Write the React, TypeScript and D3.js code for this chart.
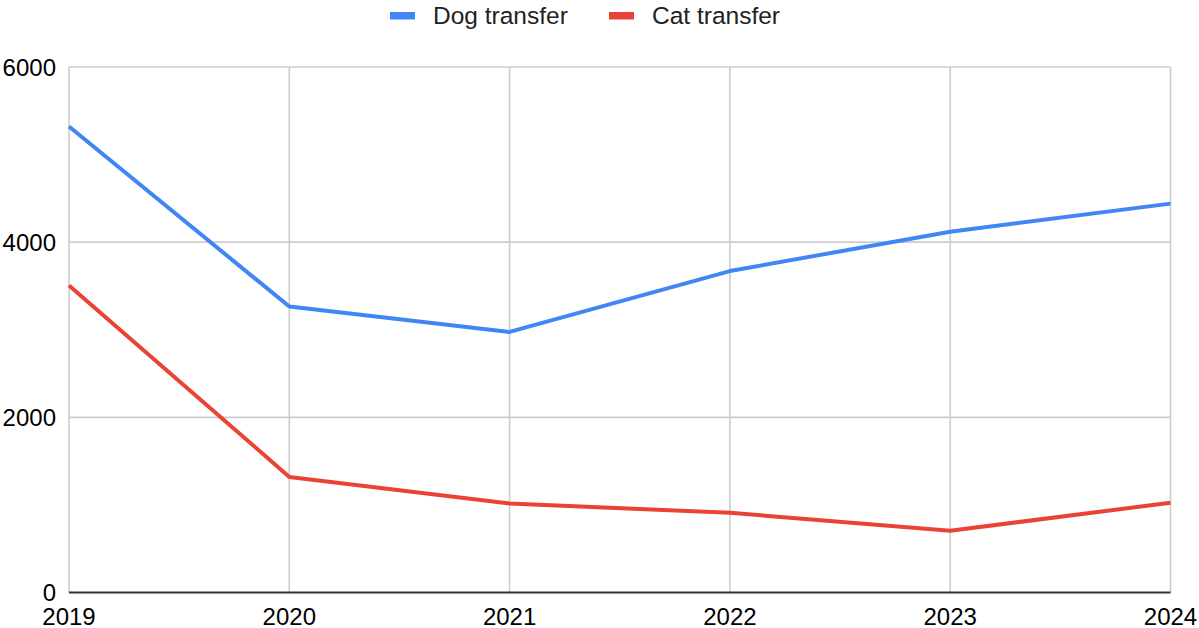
import React from "react";
import * as d3 from "d3";

const years = ["2019", "2020", "2021", "2022", "2023", "2024"];
const dogTransfer = [5320, 3265, 2975, 3670, 4120, 4440];
const catTransfer = [3505, 1320, 1015, 910, 705, 1025];
const yTicks = [0, 2000, 4000, 6000];
const seriesNames = ["Dog transfer", "Cat transfer"];
const seriesColors = ["#4285F4", "#EA4335"];

const W = 1199;
const H = 628;
const left = 69;
const right = 1170.5;
const top = 67;
const bottom = 592.5;
const font = "'Liberation Sans', Arial, sans-serif";

export default function App() {
  const x = d3.scalePoint<string>().domain(years).range([left, right]);
  const y = d3.scaleLinear().domain([0, 6000]).range([bottom, top]);
  const line = d3
    .line<number>()
    .x((_, i) => x(years[i]) as number)
    .y((d) => y(d));
  const series = [dogTransfer, catTransfer];

  const legendItems = [
    { swatchX: 390, textX: 433 },
    { swatchX: 609, textX: 652 },
  ];

  return (
    <svg
      width={W}
      height={H}
      style={{ position: "absolute", left: 0, top: 0, background: "#fff" }}
      fontFamily={font}
    >
      {yTicks
        .filter((t) => t !== 0)
        .map((t) => (
          <line key={"h" + t} x1={left} x2={right} y1={y(t)} y2={y(t)} stroke="#cccccc" strokeWidth={1.6} />
        ))}
      {years.map((yr) => (
        <line key={"v" + yr} x1={x(yr)} x2={x(yr)} y1={top} y2={bottom} stroke="#cccccc" strokeWidth={1.6} />
      ))}
      <line x1={left} x2={right} y1={y(0)} y2={y(0)} stroke="#333333" strokeWidth={1.8} />

      {yTicks.map((t) => (
        <text key={"yl" + t} x={56} y={y(t)} dy="0.36em" textAnchor="end" fontSize={24} fill="#000">
          {t}
        </text>
      ))}
      {years.map((yr) => (
        <text key={"xl" + yr} x={x(yr)} y={624.5} textAnchor="middle" fontSize={24} fill="#000">
          {yr}
        </text>
      ))}

      {series.map((s, i) => (
        <path
          key={"s" + i}
          d={line(s) || ""}
          fill="none"
          stroke={seriesColors[i]}
          strokeWidth={4}
          strokeLinejoin="round"
        />
      ))}

      {seriesNames.map((name, i) => (
        <g key={"lg" + i}>
          <rect x={legendItems[i].swatchX} y={12} width={25} height={7.5} fill={seriesColors[i]} />
          <text x={legendItems[i].textX} y={24} fontSize={24.5} fill="#222">
            {name}
          </text>
        </g>
      ))}
    </svg>
  );
}
